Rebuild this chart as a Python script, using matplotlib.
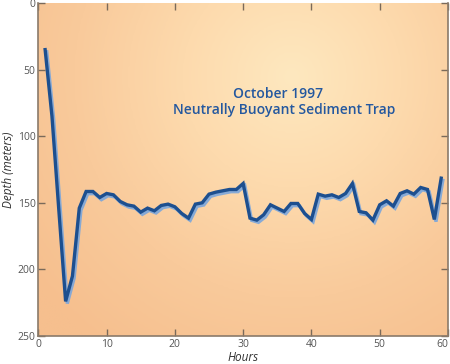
import numpy as np
import matplotlib
matplotlib.use("Agg")
import matplotlib.pyplot as plt
import matplotlib.patheffects as pe
from matplotlib.colors import LinearSegmentedColormap

hours = list(range(1, 60))
depth = [35, 85, 155, 224, 205, 154, 141.5, 141.5, 146, 143, 144, 149, 151.5, 152.5, 157,
         154, 156, 152, 151, 153, 158, 161.5, 151, 150, 143.5, 142, 141, 140, 140, 135.5,
         161.5, 163, 159, 151.5, 154, 156.5, 150.5, 150.5, 158, 162.5, 143.5, 145, 144, 146,
         143, 135.5, 156.5, 157.5, 163, 151.5, 148.5, 152.5, 143, 141, 143.5, 138.5, 140,
         162.5, 131.5]

xticks = [0, 10, 20, 30, 40, 50, 60]
yticks = [0, 50, 100, 150, 200, 250]
title_lines = ["October 1997", "Neutrally Buoyant Sediment Trap"]

plt.rcParams['font.family'] = ['Open Sans', 'DejaVu Sans']

fig = plt.figure(figsize=(4.5, 3.64), dpi=100)
ax = fig.add_axes([38.3/450, 1 - 336/364, (448 - 38.3)/450, (336 - 3)/364])

# radial gradient background
ny, nx = 200, 250
yy, xx = np.mgrid[0:1:ny*1j, 0:1:nx*1j]
cx, cy = 0.62, 0.78
r = np.sqrt(((xx - cx) / 0.8) ** 2 + ((yy - cy) / 1.0) ** 2)
r = np.clip(r, 0, 1)
cmap = LinearSegmentedColormap.from_list("bg", ["#FEE8BF", "#FDDAAD", "#F9CA9B", "#F6BF8E"])
ax.imshow(r, cmap=cmap, extent=[0, 1, 0, 1], origin='lower', aspect='auto',
          transform=ax.transAxes, zorder=0, vmin=0, vmax=1)

ax.plot(hours, depth, color="#1d4f8f", lw=2.4, zorder=3, solid_joinstyle='miter',
        path_effects=[pe.SimpleLineShadow(offset=(1.2, -1.6), shadow_color="#7aa6dc", alpha=0.9),
                      pe.Normal()])

ax.set_xlim(0, 60)
ax.set_ylim(250, 0)
ax.set_xticks(xticks)
ax.set_yticks(yticks)
ax.tick_params(direction='in', length=5, width=1, color="#7a6a5a", labelsize=7.5,
               labelcolor="#555555", top=True, right=True, pad=2)
for s in ax.spines.values():
    s.set_color("#8a7a6a")
    s.set_linewidth(1.2)
ax.spines['top'].set_visible(False)
fig.canvas.draw()
ax.get_xticklabels()[-1].set_ha('right')

ax.set_xlabel("Hours", fontsize=8.5, style='italic', color="#333333", labelpad=1)
ax.set_ylabel("Depth (meters)", fontsize=8.5, style='italic', color="#333333", labelpad=2)

ax.text(0.585, 0.728, title_lines[0], transform=ax.transAxes, ha='center', va='center',
        fontsize=10, color="#24589f", fontweight='semibold', zorder=4)
ax.text(0.60, 0.678, title_lines[1], transform=ax.transAxes, ha='center', va='center',
        fontsize=10, color="#24589f", fontweight='semibold', zorder=4)

fig.savefig("out.png", dpi=100)
